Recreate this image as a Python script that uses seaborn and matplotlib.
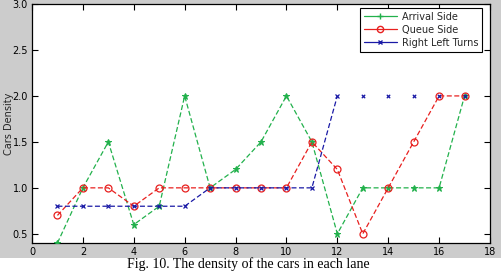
import matplotlib
matplotlib.use("Agg")
import matplotlib.pyplot as plt
from matplotlib.lines import Line2D
from matplotlib.patches import Rectangle
import seaborn as sns
import pandas as pd

sns.set_theme(style="white")
plt.rcParams['font.family'] = ['DejaVu Sans']

positions = list(range(1, 18))
arrival_side = [0.4, 1.0, 1.5, 0.6, 0.8, 2.0, 1.0, 1.2, 1.5, 2.0, 1.5, 0.5, 1.0, 1.0, 1.0, 1.0, 2.0]
queue_side = [0.7, 1.0, 1.0, 0.8, 1.0, 1.0, 1.0, 1.0, 1.0, 1.0, 1.5, 1.2, 0.5, 1.0, 1.5, 2.0, 2.0]
right_left_turns = [0.8, 0.8, 0.8, 0.8, 0.8, 0.8, 1.0, 1.0, 1.0, 1.0, 1.0, 2.0, 2.0, 2.0, 2.0, 2.0, 2.0]
series_names = ["Arrival Side", "Queue Side", "Right Left Turns"]
x_ticks = [0, 2, 4, 6, 8, 10, 12, 14, 16, 18]
y_ticks = [0.5, 1.0, 1.5, 2.0, 2.5, 3.0]
y_tick_labels = ["0.5", "1.0", "1.5", "2.0", "2.5", "3.0"]
caption = "Fig. 10. The density of the cars in each lane"

W, H = 502, 272
fig = plt.figure(figsize=(W / 100, H / 100), dpi=100)
fig.patch.set_facecolor("#cccccc")
fig.patches.append(Rectangle((0, 0), 1, 14 / H, transform=fig.transFigure,
                             facecolor="white", edgecolor="none", zorder=0))
ax = fig.add_axes([32 / W, 1 - 243 / H, (490 - 32) / W, (243 - 4) / H])
ax.set_facecolor("white")

green = "#22b14c"
red = "#e8201f"
blue = "#1a1aa6"
dash = (4, 2)

df = pd.DataFrame({"pos": positions, "arr": arrival_side, "que": queue_side, "rlt": right_left_turns})

sns.lineplot(data=df, x="pos", y="arr", ax=ax, color=green, lw=0.9, marker="*",
             markersize=5, markeredgecolor=green, markerfacecolor=green,
             linestyle=(0, dash), zorder=3)
sns.lineplot(data=df, x="pos", y="que", ax=ax, color=red, lw=0.9, marker="o",
             markersize=5, markerfacecolor="none", markeredgecolor=red,
             markeredgewidth=0.9, linestyle=(0, dash), zorder=3)
blue_line = df[df["pos"] <= 12]
blue_pts = df[df["pos"] > 12]
sns.lineplot(data=blue_line, x="pos", y="rlt", ax=ax, color=blue, lw=0.9, marker="x",
             markersize=2.5, markeredgecolor=blue, markeredgewidth=0.9,
             linestyle=(0, dash), zorder=4)
sns.scatterplot(data=blue_pts, x="pos", y="rlt", ax=ax, color=blue, marker="x",
                s=6, linewidth=0.9, zorder=4)

ax.set_xlim(0, 18)
ax.set_ylim(0.4, 3.0)
ax.set_xticks(x_ticks)
ax.set_xticklabels([str(t) for t in x_ticks])
ax.set_yticks(y_ticks)
ax.set_yticklabels(y_tick_labels)
ax.tick_params(direction="in", length=4, width=0.8, colors="black", labelsize=7,
               top=True, right=True, bottom=True, left=True, pad=3)
for sp in ax.spines.values():
    sp.set_color("black")
    sp.set_linewidth(0.9)
    sp.set_visible(True)
ax.set_xlabel("")
ax.set_ylabel("Cars Density", fontsize=7)
ax.yaxis.set_label_coords(-18 / 458, 0.5)
ax.grid(False)

handles = [
    Line2D([], [], color=green, lw=0.9, marker="+", markersize=4.5),
    Line2D([], [], color=red, lw=0.9, marker="o", markersize=4.5, markerfacecolor="none"),
    Line2D([], [], color=blue, lw=0.9, marker="x", markersize=2.5),
]
leg = ax.legend(handles, series_names, loc="upper right", bbox_to_anchor=(482 / W, 1 - 8 / H),
                bbox_transform=fig.transFigure, fontsize=7, frameon=True, fancybox=False,
                handlelength=3.4, handletextpad=0.5, borderpad=0.4, labelspacing=0.3,
                borderaxespad=0)
leg.get_frame().set_edgecolor("black")
leg.get_frame().set_linewidth(0.8)
leg.get_frame().set_alpha(1)

fig.text(248 / W, 1 / H, caption, ha="center", va="bottom", fontsize=10,
         family="Liberation Serif", color="black")

fig.savefig("out.png", dpi=100, facecolor=fig.get_facecolor())
